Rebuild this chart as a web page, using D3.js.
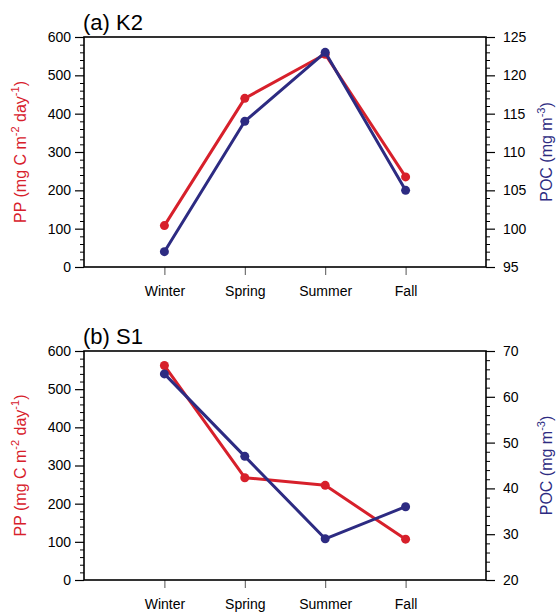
<!DOCTYPE html>
<html>
<head>
<meta charset="utf-8">
<script src="https://cdn.jsdelivr.net/npm/d3@7"></script>
<style>
  html, body { margin: 0; padding: 0; background: #fff; }
  svg { display: block; font-family: "Liberation Sans", Arial, Helvetica, sans-serif; }
</style>
</head>
<body>
<svg id="chart" width="556" height="612"></svg>
<script>
// ---- data ----
const seasons = ["Winter", "Spring", "Summer", "Fall"];
const k2PP  = [108, 440, 555, 235];
const k2POC = [97, 114, 123, 105];
const s1PP  = [562, 268, 248, 107];
const s1POC = [65, 47, 29, 36];
const ppTicks = [0, 100, 200, 300, 400, 500, 600];
const k2PocTicks = [95, 100, 105, 110, 115, 120, 125];
const s1PocTicks = [20, 30, 40, 50, 60, 70];
const titles = ["(a) K2", "(b) S1"];

const RED = "#d7202b";
const BLUE = "#2d2b82";

const svg = d3.select("#chart");
const left = 84, right = 486;

const panels = [
  { title: titles[0], top: 37, bottom: 267, pp: k2PP, poc: k2POC,
    pocDomain: [95, 125], pocTicks: k2PocTicks, pocMinorStep: 1 },
  { title: titles[1], top: 351, bottom: 580, pp: s1PP, poc: s1POC,
    pocDomain: [20, 70], pocTicks: s1PocTicks, pocMinorStep: 2 }
];

const x = d3.scaleLinear().domain([0, seasons.length + 1]).range([left, right]);

function range(a, b, s) { const r = []; for (let v = a; v <= b + 1e-9; v += s) r.push(+v.toFixed(6)); return r; }

panels.forEach(p => {
  const yL = d3.scaleLinear().domain([0, 600]).range([p.bottom, p.top]);
  const yR = d3.scaleLinear().domain(p.pocDomain).range([p.bottom, p.top]);
  const g = svg.append("g");

  // title
  g.append("text").attr("x", left - 1).attr("y", p.top - 7)
    .attr("font-size", 22).attr("fill", "#000").text(p.title);

  // left axis
  const axL = d3.axisLeft(yL).tickValues(ppTicks).tickSize(9).tickPadding(4);
  const gL = g.append("g").attr("transform", `translate(${left},0)`).call(axL);
  gL.select(".domain").remove();
  gL.selectAll("text").attr("font-size", 14).attr("fill", "#000").attr("font-family", "Liberation Sans, Arial, sans-serif");
  gL.selectAll("line").attr("stroke", "#000").attr("stroke-width", 1.2);
  const minL = d3.axisLeft(yL).tickValues(range(0, 600, 20).filter(v => v % 100 !== 0)).tickSize(4).tickFormat("");
  const gLm = g.append("g").attr("transform", `translate(${left},0)`).call(minL);
  gLm.select(".domain").remove();
  gLm.selectAll("line").attr("stroke", "#000").attr("stroke-width", 1);

  // right axis
  const axR = d3.axisRight(yR).tickValues(p.pocTicks).tickSize(9).tickPadding(8);
  const gR = g.append("g").attr("transform", `translate(${right},0)`).call(axR);
  gR.select(".domain").remove();
  gR.selectAll("text").attr("font-size", 14).attr("fill", "#000").attr("font-family", "Liberation Sans, Arial, sans-serif");
  gR.selectAll("line").attr("stroke", "#000").attr("stroke-width", 1.2);
  const minorR = range(p.pocDomain[0], p.pocDomain[1], p.pocMinorStep).filter(v => !p.pocTicks.includes(v));
  const minR = d3.axisRight(yR).tickValues(minorR).tickSize(4).tickFormat("");
  const gRm = g.append("g").attr("transform", `translate(${right},0)`).call(minR);
  gRm.select(".domain").remove();
  gRm.selectAll("line").attr("stroke", "#000").attr("stroke-width", 1);

  // bottom axis
  const axB = d3.axisBottom(x).tickValues(seasons.map((s, i) => i + 1))
    .tickFormat(i => seasons[i - 1]).tickSize(8).tickPadding(11);
  const gB = g.append("g").attr("transform", `translate(0,${p.bottom})`).call(axB);
  gB.select(".domain").remove();
  gB.selectAll("text").attr("font-size", 14).attr("fill", "#000").attr("font-family", "Liberation Sans, Arial, sans-serif");
  gB.selectAll("line").attr("stroke", "#555").attr("stroke-width", 1);

  // frame
  g.append("rect").attr("x", left).attr("y", p.top)
    .attr("width", right - left).attr("height", p.bottom - p.top)
    .attr("fill", "none").attr("stroke", "#000").attr("stroke-width", 1.6);

  // axis titles
  const midY = (p.top + p.bottom) / 2;
  const tl = g.append("text").attr("transform", `translate(26,${midY}) rotate(-90)`)
    .attr("text-anchor", "middle").attr("font-size", 16).attr("fill", RED);
  tl.append("tspan").text("PP (mg C m");
  tl.append("tspan").attr("dy", -7).attr("font-size", 11).text("-2");
  tl.append("tspan").attr("dy", 7).text(" day");
  tl.append("tspan").attr("dy", -7).attr("font-size", 11).text("-1");
  tl.append("tspan").attr("dy", 7).text(")");

  const tr = g.append("text").attr("transform", `translate(552,${midY}) rotate(-90)`)
    .attr("text-anchor", "middle").attr("font-size", 16).attr("fill", BLUE);
  tr.append("tspan").text("POC (mg m");
  tr.append("tspan").attr("dy", -7).attr("font-size", 11).text("-3");
  tr.append("tspan").attr("dy", 7).text(")");

  // lines
  const lineL = d3.line().x((d, i) => x(i + 1)).y(d => yL(d));
  const lineR = d3.line().x((d, i) => x(i + 1)).y(d => yR(d));

  g.append("path").datum(p.pp).attr("d", lineL)
    .attr("fill", "none").attr("stroke", RED).attr("stroke-width", 3).attr("stroke-linejoin", "round");
  g.selectAll(".ppdot").data(p.pp).enter().append("circle")
    .attr("cx", (d, i) => x(i + 1)).attr("cy", d => yL(d)).attr("r", 4.5).attr("fill", RED);

  g.append("path").datum(p.poc).attr("d", lineR)
    .attr("fill", "none").attr("stroke", BLUE).attr("stroke-width", 3).attr("stroke-linejoin", "round");
  g.selectAll(".pocdot").data(p.poc).enter().append("circle")
    .attr("cx", (d, i) => x(i + 1)).attr("cy", d => yR(d)).attr("r", 4.5).attr("fill", BLUE);
});
</script>
</body>
</html>
